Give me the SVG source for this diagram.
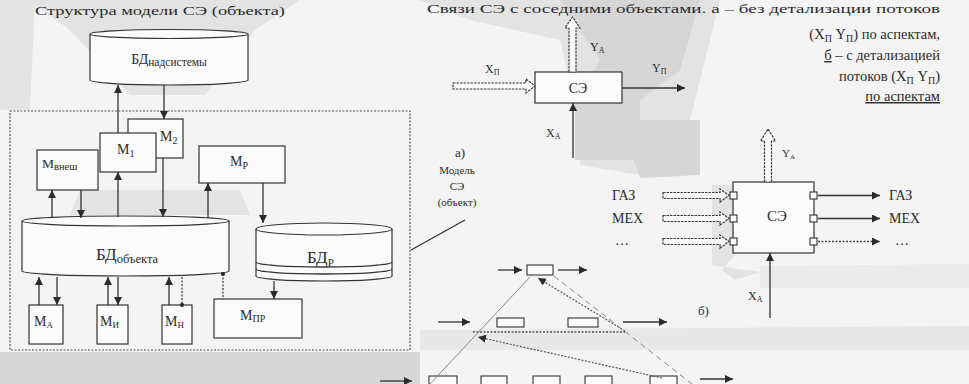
<svg xmlns="http://www.w3.org/2000/svg" width="969" height="384" viewBox="0 0 969 384">
<defs>
<style>
.t{font-family:"Liberation Serif","DejaVu Serif",serif;fill:#2b2b2b}
.ln{stroke:#333;stroke-width:1.3;fill:none}
.dl{stroke:#444;stroke-width:1.3;fill:none;stroke-dasharray:2 1.5}
.box{fill:#fbfbfb;stroke:#333;stroke-width:1.2}
.cyl{fill:#fbfbfb;stroke:#333;stroke-width:1.2}
.hol{fill:#fbfbfb;stroke:#3a3a3a;stroke-width:1.2;stroke-dasharray:2.5 1}
.sm{fill:#fbfbfb;stroke:#333;stroke-width:1.1}
.bg{fill:#d6d6d6}
.bg2{fill:#e3e3e3}
</style>
<marker id="ah" viewBox="0 0 8 8" markerWidth="8" markerHeight="8" refX="8" refY="4" orient="auto" markerUnits="userSpaceOnUse"><path d="M0,0 L8,4 L0,8 z" fill="#2b2b2b"/></marker>
<marker id="dot" viewBox="0 0 6 6" markerWidth="5" markerHeight="5" refX="3" refY="3" markerUnits="userSpaceOnUse"><circle cx="3" cy="3" r="2.5" fill="#2b2b2b"/></marker>
</defs>

<!-- background scan shading -->
<rect width="969" height="384" fill="#f4f4f4"/>
<g id="shading">
<path class="bg2" d="M28,0 L300,0 L255,30 L205,95 L130,95 L70,30 Z"/>
<path class="bg2" d="M0,0 L35,0 L30,110 L0,110 Z"/>
<path class="bg2" d="M80,190 L240,190 L250,215 L70,215 Z"/>
<path class="bg" d="M0,352 L420,352 L420,384 L0,384 Z"/>
<path class="bg2" d="M420,0 L720,0 L705,60 L690,120 L640,175 L580,165 L575,105 L560,40 L470,20 Z"/>
<path class="bg" d="M560,0 L700,0 L680,70 L640,100 L640,160 L575,160 L575,105 L600,60 L580,30 Z"/>
<path class="bg" d="M620,120 L700,120 L700,175 L640,178 Z"/>
<path class="bg2" d="M712,185 L735,185 L735,255 L722,270 L735,280 L760,272 L712,265 Z"/>
<path fill="#e8e8e8" d="M420,330 L969,326 L969,350 L420,350 Z"/>
<path fill="#ebebeb" d="M760,266 L969,264 L969,288 L760,288 Z"/>
</g>

<!-- ===== left: structure of model ===== -->
<text class="t" x="35" y="15" font-size="13.5" textLength="250" lengthAdjust="spacingAndGlyphs">Структура модели СЭ (объекта)</text>

<rect id="frame" x="10" y="111" width="400" height="239" fill="none" stroke="#555" stroke-width="1.2" stroke-dasharray="2 1.5"/>

<g id="db-super">
<path class="cyl" d="M90,34 L90,80 A79,5 0 0 0 248,80 L248,34"/>
<ellipse class="cyl" cx="169" cy="34" rx="79" ry="4.5"/>
<text class="t" x="169" y="64" font-size="14" text-anchor="middle">БД<tspan font-size="11.5" dy="2">надсистемы</tspan></text>
</g>

<g id="m2"><rect class="box" x="128" y="119" width="55" height="39"/>
<text class="t" x="160" y="141" font-size="14">M<tspan font-size="10" dy="3">2</tspan></text></g>
<g id="m1"><rect class="box" x="100" y="133" width="56" height="39"/>
<text class="t" x="117" y="154" font-size="14">M<tspan font-size="10" dy="3">1</tspan></text></g>
<g id="m-ext"><rect class="box" x="37" y="150" width="61" height="40"/>
<text class="t" x="42" y="168" font-size="13.5">M<tspan font-size="10.5" dy="2">внеш</tspan></text></g>
<g id="m-r"><rect class="box" x="199" y="146" width="86" height="37"/>
<text class="t" x="230" y="166" font-size="14">M<tspan font-size="10" dy="3">Р</tspan></text></g>

<g id="db-object">
<path class="cyl" d="M22,221 L22,271 A103.5,5 0 0 0 229,271 L229,221"/>
<ellipse class="cyl" cx="125.5" cy="221" rx="103.5" ry="5"/>
<text class="t" x="96" y="260" font-size="17">БД<tspan font-size="12.5" dy="3">объекта</tspan></text>
</g>

<g id="db-r">
<path class="cyl" d="M256,229 L256,276 A68,5 0 0 0 392,276 L392,229"/>
<ellipse class="cyl" cx="324" cy="229" rx="68" ry="6"/>
<path class="ln" d="M256,262 A68,5 0 0 0 392,262 M256,269 A68,5 0 0 0 392,269"/>
<text class="t" x="307" y="263" font-size="17">БД<tspan font-size="11" dy="3">Р</tspan></text>
</g>

<g id="m-a"><rect class="box" x="29" y="305" width="34" height="39"/>
<text class="t" x="34" y="326" font-size="14">M<tspan font-size="9" dy="2">А</tspan></text></g>
<g id="m-i"><rect class="box" x="97" y="305" width="31" height="39"/>
<text class="t" x="100" y="326" font-size="14">M<tspan font-size="9" dy="2">И</tspan></text></g>
<g id="m-n"><rect class="box" x="162" y="305" width="30" height="39"/>
<text class="t" x="165" y="326" font-size="14">M<tspan font-size="9" dy="2">Н</tspan></text></g>
<g id="m-pr"><rect class="box" x="214" y="299" width="88" height="39"/>
<text class="t" x="240" y="320" font-size="14">M<tspan font-size="10" dy="2">ПР</tspan></text></g>

<g id="label-model">
<text class="t" x="457" y="174" font-size="11" text-anchor="middle">Модель</text>
<text class="t" x="457" y="190" font-size="11" text-anchor="middle">СЭ</text>
<text class="t" x="457" y="206" font-size="11" text-anchor="middle">(объект)</text>
</g>

<g id="connectors-left">
<line class="ln" x1="118" y1="133" x2="118" y2="85" marker-end="url(#ah)"/>
<line class="ln" x1="164" y1="85" x2="164" y2="119" marker-end="url(#ah)"/>
<line class="ln" x1="118" y1="217" x2="118" y2="172" marker-end="url(#ah)"/>
<line class="ln" x1="163" y1="158" x2="163" y2="217" marker-end="url(#ah)"/>
<line class="ln" x1="52" y1="218" x2="52" y2="190" marker-end="url(#ah)"/>
<line class="ln" x1="81" y1="190" x2="81" y2="218" marker-end="url(#ah)"/>
<line class="ln" x1="208" y1="218" x2="208" y2="183" marker-end="url(#ah)"/>
<line class="ln" x1="263" y1="183" x2="263" y2="223" marker-end="url(#ah)"/>
<line class="ln" x1="274" y1="281" x2="274" y2="299" marker-end="url(#ah)"/>
<line class="dl" x1="223" y1="274" x2="223" y2="299" marker-start="url(#dot)"/>
<line class="ln" x1="39" y1="305" x2="39" y2="277" marker-end="url(#ah)"/>
<line class="ln" x1="57" y1="277" x2="57" y2="305" marker-end="url(#ah)"/>
<line class="ln" x1="108" y1="305" x2="108" y2="277" marker-end="url(#ah)"/>
<line class="ln" x1="118" y1="277" x2="118" y2="305" marker-end="url(#ah)"/>
<line class="ln" x1="169" y1="305" x2="169" y2="277" marker-end="url(#ah)"/>
<line class="dl" x1="182" y1="277" x2="182" y2="305" marker-end="url(#dot)"/>
<line class="ln" x1="411" y1="250" x2="465" y2="220" stroke-width="1"/>
</g>

<!-- ===== right: links ===== -->
<g id="right-text">
<text class="t" x="427" y="13" font-size="13" textLength="513" lengthAdjust="spacingAndGlyphs">Связи СЭ с соседними объектами. а – без детализации потоков</text>
<text class="t" x="940" y="39" font-size="14.5" text-anchor="end">(X<tspan font-size="10" dy="3">П</tspan><tspan dy="-3"> Y</tspan><tspan font-size="10" dy="3">П</tspan><tspan dy="-3">) по аспектам,</tspan></text>
<text class="t" x="940" y="60" font-size="14.5" text-anchor="end"><tspan text-decoration="underline">б</tspan> – с детализацией</text>
<text class="t" x="940" y="81" font-size="14.5" text-anchor="end">потоков (X<tspan font-size="10" dy="3">П</tspan><tspan dy="-3"> Y</tspan><tspan font-size="10" dy="3">П</tspan><tspan dy="-3">)</tspan></text>
<text class="t" x="940" y="101" font-size="14.5" text-anchor="end" text-decoration="underline">по аспектам</text>
</g>

<g id="se-a">
<rect class="box" x="535" y="72" width="87" height="31"/>
<text class="t" x="578" y="93" font-size="14" text-anchor="middle">СЭ</text>
</g>
<g id="arrows-a">
<polygon class="hol" points="453,83 526,83 526,79 535,86 526,93 526,89 453,89"/>
<polygon class="hol" points="569,72 569,28 565,28 572.5,17 580,28 576,28 576,72"/>
<line class="ln" x1="622" y1="88" x2="685" y2="88" marker-end="url(#ah)"/>
<line class="ln" x1="573" y1="158" x2="573" y2="103" marker-end="url(#ah)"/>
<text class="t" x="485" y="73" font-size="12">X<tspan font-size="8" dy="2">П</tspan></text>
<text class="t" x="652" y="72" font-size="12">Y<tspan font-size="8" dy="2">П</tspan></text>
<text class="t" x="590" y="51" font-size="12">Y<tspan font-size="8" dy="2">А</tspan></text>
<text class="t" x="546" y="137" font-size="12">X<tspan font-size="8" dy="2">А</tspan></text>
<text class="t" x="460" y="157" font-size="13" text-anchor="middle">а)</text>
</g>

<g id="se-b">
<rect class="box" x="733" y="182" width="81" height="71"/>
<text class="t" x="777" y="221" font-size="15" text-anchor="middle">СЭ</text>
<rect class="sm" x="730" y="192" width="7" height="7"/>
<rect class="sm" x="730" y="215" width="7" height="7"/>
<rect class="sm" x="730" y="238" width="7" height="7"/>
<rect class="sm" x="810" y="192" width="7" height="7"/>
<rect class="sm" x="810" y="215" width="7" height="7"/>
<rect class="sm" x="810" y="238" width="7" height="7"/>
</g>
<g id="arrows-b">
<polygon class="hol" points="663,192.5 720,192.5 720,189 729,195.5 720,202 720,198.5 663,198.5"/>
<polygon class="hol" points="663,215.5 720,215.5 720,212 729,218.5 720,225 720,221.5 663,221.5"/>
<polygon class="hol" points="663,238.5 720,238.5 720,235 729,241.5 720,248 720,244.5 663,244.5"/>
<polygon class="hol" points="764.5,182 764.5,141 760.5,141 768,129 775.5,141 771.5,141 771.5,182"/>
<line class="ln" x1="818" y1="195.5" x2="880" y2="195.5" marker-end="url(#ah)"/>
<line class="ln" x1="818" y1="218.5" x2="880" y2="218.5" marker-end="url(#ah)"/>
<line class="dl" x1="818" y1="241.5" x2="880" y2="241.5" marker-end="url(#ah)"/>
<line class="ln" x1="770" y1="318" x2="770" y2="253" marker-end="url(#ah)"/>
<text class="t" x="612" y="200" font-size="14">ГАЗ</text>
<text class="t" x="612" y="223" font-size="14">МЕХ</text>
<text class="t" x="615" y="245" font-size="14" fill="#777">…</text>
<text class="t" x="889" y="200" font-size="14">ГАЗ</text>
<text class="t" x="889" y="223" font-size="14">МЕХ</text>
<text class="t" x="895" y="245" font-size="14" fill="#777">…</text>
<text class="t" x="782" y="157" font-size="11">Y<tspan font-size="7" dy="2">А</tspan></text>
<text class="t" x="748" y="300" font-size="12">X<tspan font-size="8" dy="2">А</tspan></text>
<text class="t" x="698" y="315" font-size="13">б)</text>
</g>

<g id="hierarchy">
<rect class="sm" x="527" y="265" width="26" height="10"/>
<rect class="sm" x="497" y="318" width="27" height="9"/>
<rect class="sm" x="568" y="318" width="30" height="9"/>
<rect class="sm" x="429" y="376" width="28" height="10"/>
<rect class="sm" x="481" y="376" width="26" height="10"/>
<rect class="sm" x="533" y="376" width="27" height="10"/>
<rect class="sm" x="585" y="376" width="27" height="10"/>
<rect class="sm" x="650" y="376" width="27" height="10"/>
</g>
<g id="connectors-hierarchy">
<line class="ln" x1="498" y1="270" x2="522" y2="270" marker-end="url(#ah)"/>
<line class="ln" x1="558" y1="270" x2="587" y2="270" marker-end="url(#ah)"/>
<line class="ln" x1="438" y1="322" x2="470" y2="322" marker-end="url(#ah)"/>
<line class="ln" x1="623" y1="322" x2="667" y2="322" marker-end="url(#ah)"/>
<line class="ln" x1="380" y1="381" x2="412" y2="381" marker-end="url(#ah)"/>
<line class="ln" x1="700" y1="379" x2="733" y2="379" marker-end="url(#ah)"/>
<line x1="473" y1="332" x2="625" y2="332" stroke="#555" stroke-width="1.4" stroke-dasharray="2 1.5"/>
<line x1="530" y1="277" x2="430" y2="384" stroke="#888" stroke-width="1"/>
<line x1="625" y1="331" x2="538" y2="278" stroke="#555" stroke-width="1.2" stroke-dasharray="2 1.5" marker-end="url(#ah)"/>
<line x1="554" y1="276" x2="692" y2="384" stroke="#888" stroke-width="1" stroke-dasharray="6 4"/>
<line x1="662" y1="378" x2="478" y2="337" stroke="#555" stroke-width="1.2" stroke-dasharray="2 1.5" marker-end="url(#ah)"/>
</g>
</svg>
